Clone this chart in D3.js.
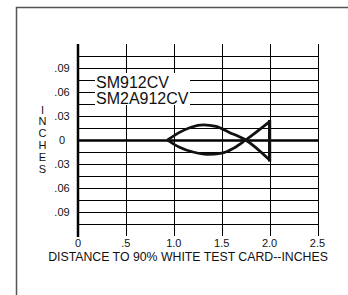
<!DOCTYPE html>
<html>
<head>
<meta charset="utf-8">
<script src="https://cdn.jsdelivr.net/npm/d3@7"></script>
<style>
  body { margin: 0; background: #fff; }
  svg { display: block; font-family: "Liberation Sans", Arial, sans-serif; }
</style>
</head>
<body>
<div id="chart"></div>
<script>
    // axis ticks and labels
    var xTicks = [0, 0.5, 1.0, 1.5, 2.0, 2.5];
    var xTickLabels = ["0", ".5", "1.0", "1.5", "2.0", "2.5"];
    var yTicks = [0.09, 0.06, 0.03, 0, -0.03, -0.06, -0.09];
    var yTickLabels = [".09", ".06", ".03", "0", ".03", ".06", ".09"];
    // horizontal grid lines
    var gridY = [0.105, 0.09, 0.075, 0.06, 0.045, 0.03, 0.015, 0,
                 -0.015, -0.03, -0.045, -0.06, -0.075, -0.09, -0.105];
    var models = ["SM912CV", "SM2A912CV"];
    var yTitle = "INCHES";
    var xTitle = "DISTANCE TO 90% WHITE TEST CARD--INCHES";

    // detection pattern (fish shape)
    var upperEdge = [
        {x: 0.935, y: 0.000}, {x: 1.06, y: 0.0095}, {x: 1.18, y: 0.016},
        {x: 1.31, y: 0.019}, {x: 1.44, y: 0.017}, {x: 1.58, y: 0.0095},
        {x: 1.75, y: 0.000}, {x: 2.0, y: -0.025}
    ];
    var lowerEdge = [
        {x: 0.935, y: 0.000}, {x: 1.06, y: -0.009}, {x: 1.2, y: -0.015},
        {x: 1.35, y: -0.018}, {x: 1.5, y: -0.0165}, {x: 1.62, y: -0.0105},
        {x: 1.75, y: 0.000}, {x: 2.0, y: 0.023}
    ];
    var tailEdge = [{x: 2.0, y: 0.023}, {x: 2.0, y: -0.025}];

    var W = 348, H = 295;

    var svg = d3.select("#chart").append("svg")
        .attr("width", W)
        .attr("height", H);

    // frame
    svg.append("path")
       .attr("d", "M16.5," + H + "V7.5H" + W)
       .attr("fill", "none")
       .attr("stroke", "#555")
       .attr("stroke-width", 1.5);

    var xScale = d3.scaleLinear().domain([0, 2.5]).range([78, 317.5]);
    var yScale = d3.scaleLinear().domain([-0.12, 0.12]).range([236, 44]);

    // horizontal grid
    svg.append("g")
       .selectAll("line")
       .data(gridY)
       .enter().append("line")
       .attr("x1", xScale(0))
       .attr("x2", xScale(2.5) + 1)
       .attr("y1", function(d) { return Math.round(yScale(d)) + 0.5; })
       .attr("y2", function(d) { return Math.round(yScale(d)) + 0.5; })
       .attr("stroke", "#000")
       .attr("stroke-width", function(d) { return d === 0 ? 2.5 : 1; });

    // vertical grid
    svg.append("g")
       .selectAll("line")
       .data(xTicks.slice(1))
       .enter().append("line")
       .attr("x1", function(d) { return Math.round(xScale(d)) + 0.5; })
       .attr("x2", function(d) { return Math.round(xScale(d)) + 0.5; })
       .attr("y1", yScale(0.12))
       .attr("y2", yScale(-0.12))
       .attr("stroke", "#000")
       .attr("stroke-width", 1);

    // legend labels sit on white boxes over the grid
    svg.append("rect")
       .attr("x", 95)
       .attr("y", 73)
       .attr("width", 95)
       .attr("height", 32)
       .attr("fill", "#fff");

    svg.append("g")
       .selectAll("text")
       .data(models)
       .enter().append("text")
       .attr("x", 96)
       .attr("y", function(d, i) { return 87.5 + i * 16; })
       .attr("font-size", "16px")
       .attr("fill", "#111")
       .text(function(d) { return d; });

    // y axis
    svg.append("line")
       .attr("x1", xScale(0))
       .attr("x2", xScale(0))
       .attr("y1", yScale(0.12))
       .attr("y2", yScale(-0.12) + 1)
       .attr("stroke", "#000")
       .attr("stroke-width", 2.5);

    // fish curve
    var line = d3.line()
        .x(function(d) { return xScale(d.x); })
        .y(function(d) { return yScale(d.y); })
        .curve(d3.curveMonotoneX);

    var straight = d3.line()
        .x(function(d) { return xScale(d.x); })
        .y(function(d) { return yScale(d.y); });

    [upperEdge, lowerEdge].forEach(function(pts) {
        svg.append("path")
           .attr("d", line(pts))
           .attr("fill", "none")
           .attr("stroke", "#111")
           .attr("stroke-width", 2.7)
           .attr("stroke-linejoin", "round");
    });

    svg.append("path")
       .attr("d", straight(tailEdge))
       .attr("fill", "none")
       .attr("stroke", "#111")
       .attr("stroke-width", 3.2)
       .attr("stroke-linecap", "square");

    // tick labels
    svg.append("g")
       .selectAll("text")
       .data(xTicks)
       .enter().append("text")
       .attr("x", function(d) { return xScale(d); })
       .attr("y", 247)
       .attr("text-anchor", "middle")
       .attr("font-size", "11px")
       .attr("fill", "#111")
       .text(function(d, i) { return xTickLabels[i]; });

    svg.append("g")
       .selectAll("text")
       .data(yTicks)
       .enter().append("text")
       .attr("x", 62)
       .attr("y", function(d) { return yScale(d) + 4; })
       .attr("text-anchor", "middle")
       .attr("font-size", "11px")
       .attr("fill", "#111")
       .text(function(d, i) { return yTickLabels[i]; });

    // stacked y title
    svg.append("g")
       .selectAll("text")
       .data(yTitle.split(""))
       .enter().append("text")
       .attr("x", 42.5)
       .attr("y", function(d, i) { return 113.5 + i * 11.8; })
       .attr("text-anchor", "middle")
       .attr("font-size", "11px")
       .attr("fill", "#111")
       .text(function(d) { return d; });

    svg.append("text")
       .attr("x", 188)
       .attr("y", 261)
       .attr("text-anchor", "middle")
       .attr("font-size", "12.3px")
       .attr("fill", "#111")
       .text(xTitle);
</script>
</body>
</html>
